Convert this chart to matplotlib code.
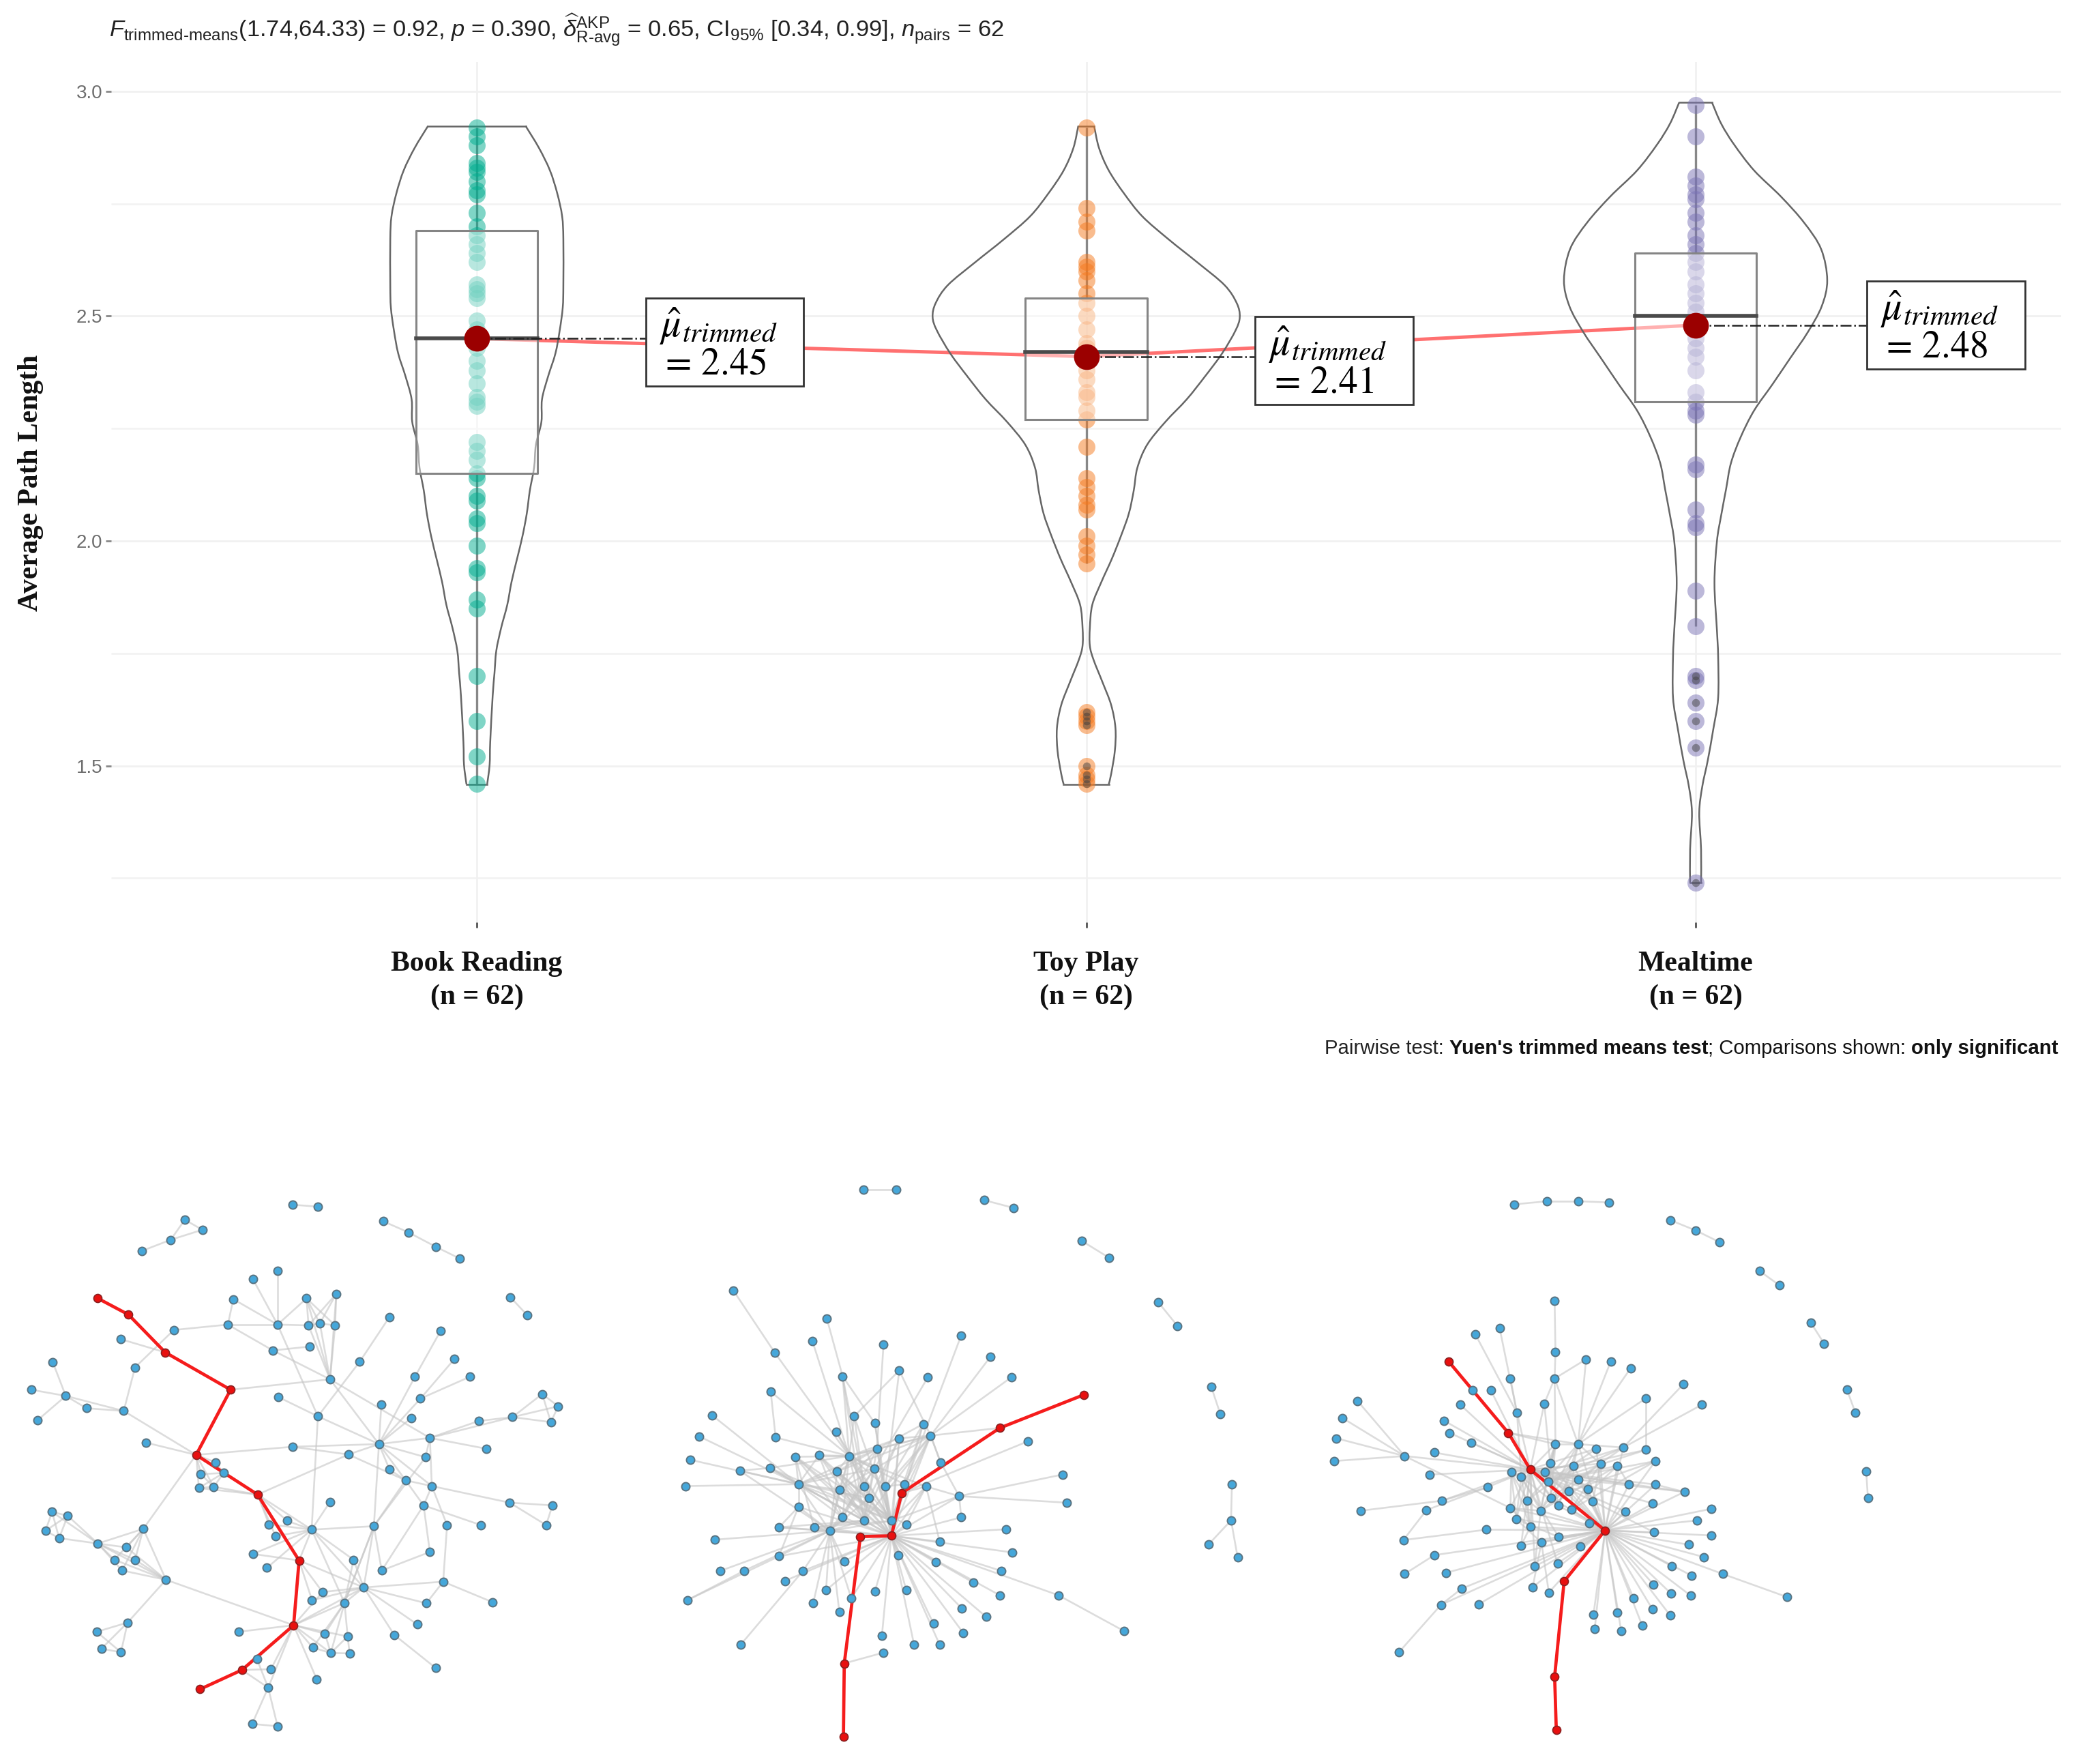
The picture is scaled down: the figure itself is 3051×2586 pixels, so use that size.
# -*- coding: utf-8 -*-
import matplotlib
matplotlib.use("Agg")
import matplotlib.pyplot as plt
from matplotlib.path import Path
from matplotlib.patches import PathPatch, Rectangle

W, H = 3051, 2586

plt.rcParams['font.family'] = ['Liberation Sans', 'DejaVu Sans']
plt.rcParams['mathtext.fontset'] = 'custom'
plt.rcParams['mathtext.rm'] = 'Liberation Sans'
plt.rcParams['mathtext.it'] = 'Liberation Sans:italic'
plt.rcParams['mathtext.bf'] = 'Liberation Sans:bold'

# ---- violin panel data
conditions = ["Book Reading", "Toy Play", "Mealtime"]
sample_n = [62, 62, 62]
trimmed_means = [2.45, 2.41, 2.48]
medians = [2.45, 2.42, 2.50]
box_low = [2.15, 2.27, 2.31]
box_high = [2.69, 2.54, 2.64]
whisker_low = [1.46, 1.95, 1.81]
whisker_high = [2.92, 2.92, 2.97]
colors = ['#00AD8F', '#F57A1F', '#7A73B5']

book_points = [2.92, 2.90, 2.88, 2.84, 2.83, 2.82, 2.80, 2.78, 2.77, 2.73, 2.70, 2.68, 2.66, 2.64, 2.62,
               2.57, 2.56, 2.55, 2.54, 2.49, 2.47, 2.45, 2.43, 2.40, 2.38, 2.35, 2.32, 2.31, 2.30,
               2.22, 2.20, 2.18, 2.15, 2.14, 2.10, 2.09, 2.05, 2.04, 1.99, 1.94, 1.93, 1.87, 1.85,
               1.70, 1.60, 1.52, 1.46]
toy_points = [2.92, 2.74, 2.71, 2.69, 2.62, 2.61, 2.60, 2.58, 2.55, 2.53, 2.50, 2.47, 2.44, 2.43, 2.41,
              2.38, 2.36, 2.33, 2.32, 2.29, 2.27, 2.21, 2.14, 2.12, 2.10, 2.08, 2.07, 2.01, 1.99, 1.97,
              1.95, 1.62, 1.61, 1.60, 1.59, 1.50, 1.48, 1.47, 1.46]
meal_points = [2.97, 2.90, 2.81, 2.79, 2.77, 2.76, 2.73, 2.71, 2.68, 2.66, 2.64, 2.62, 2.60, 2.57, 2.55,
               2.53, 2.51, 2.49, 2.47, 2.45, 2.43, 2.41, 2.38, 2.33, 2.31, 2.29, 2.28, 2.17, 2.16,
               2.07, 2.04, 2.03, 1.89, 1.81, 1.70, 1.69, 1.64, 1.60, 1.54, 1.24]
outliers = [[], [1.62, 1.61, 1.60, 1.59, 1.50, 1.48, 1.47, 1.46], [1.70, 1.69, 1.64, 1.60, 1.54, 1.24]]

# violin outlines: value and half width in x units
book_vy = [2.923, 2.874, 2.824, 2.773, 2.722, 2.671, 2.569, 2.519, 2.468, 2.417, 2.366, 2.315, 2.265, 2.214,
           2.163, 2.112, 2.061, 2.011, 1.960, 1.909, 1.858, 1.807, 1.756, 1.706, 1.655, 1.553, 1.502, 1.459]
book_vw = [.080, .102, .120, .132, .140, .142, .142, .141, .136, .129, .117, .107, .106, .097,
           .094, .087, .082, .075, .066, .057, .050, .040, .032, .029, .026, .022, .021, .017]
toy_vy = [2.923, 2.874, 2.824, 2.773, 2.722, 2.671, 2.620, 2.569, 2.529, 2.498, 2.468, 2.417, 2.366, 2.315, 2.265,
          2.214, 2.163, 2.112, 2.061, 2.011, 1.960, 1.909, 1.858, 1.807, 1.767, 1.736, 1.685, 1.635, 1.584, 1.533,
          1.482, 1.459]
toy_vw = [.013, .021, .037, .062, .092, .135, .182, .227, .247, .252, .245, .223, .195, .165, .130,
          .100, .084, .078, .070, .057, .042, .025, .010, .006, .006, .012, .027, .041, .048, .047,
          .041, .037]
meal_vy = [2.975, 2.928, 2.882, 2.824, 2.766, 2.708, 2.649, 2.580, 2.522, 2.464, 2.406, 2.348, 2.290, 2.231, 2.173,
           2.115, 2.057, 1.999, 1.906, 1.802, 1.744, 1.651, 1.581, 1.512, 1.454, 1.396, 1.314, 1.240]
meal_vw = [.027, .042, .063, .096, .140, .178, .206, .216, .207, .184, .155, .126, .096, .074, .058,
           .050, .042, .035, .031, .035, .037, .037, .029, .020, .011, .006, .009, .009]

label_x = [1.407, 2.407, 3.411]
label_y = [2.442, 2.401, 2.480]
label_w = 0.259
label_h = 0.195
minor_grid = [1.25, 1.75, 2.25, 2.75]
y_ticks = [1.5, 2.0, 2.5, 3.0]

# ---- network data, node positions
net1_x = [747, 812, 472, 517, 436, 362, 979, 1044, 1113, 1175, 709, 646, 596, 783, 859, 1304, 1347, 995, 1125, 1161,
          1201, 444, 582, 709, 788, 817, 856, 309, 697, 791, 345, 919, 135, 1060, 843, 80, 168, 711, 1074, 1385,
          1426, 221, 316, 96, 812, 974, 1050, 1309, 1223, 1407, 372, 747, 968, 1098, 1242, 890, 1087, 550, 571, 513,
          508, 546, 995, 1036, 1103, 843, 1082, 1302, 1411, 1395, 1228, 1142, 133, 173, 116, 151, 366, 250, 323, 292,
          345, 312, 424, 733, 687, 704, 796, 955, 646, 682, 903, 975, 1098, 824, 797, 929, 880, 1132, 1089, 1258,
          326, 247, 259, 309, 609, 830, 888, 799, 845, 893, 1066, 1007, 1113, 656, 692, 685, 809, 644, 709,
          250, 328, 422, 589, 501, 658, 764, 750, 618, 511]
net1_y = [117, 122, 156, 182, 208, 237, 160, 189, 226, 257, 289, 310, 362, 360, 348, 357, 404, 408, 445, 517,
          563, 442, 428, 428, 430, 425, 430, 466, 495, 485, 539, 524, 526, 563, 570, 597, 613, 616, 620, 608,
          640, 645, 652, 676, 666, 635, 671, 668, 678, 681, 734, 745, 738, 722, 750, 765, 772, 785, 813, 816,
          852, 849, 804, 832, 847, 888, 897, 890, 897, 948, 948, 948, 914, 924, 963, 982, 958, 996, 1006, 1038,
          1038, 1066, 1090, 937, 946, 977, 960, 951, 1023, 1059, 1038, 1066, 1018, 1122, 1143, 1110, 1150, 1095, 1151, 1148,
          1201, 1225, 1269, 1278, 1225, 1230, 1237, 1266, 1280, 1281, 1206, 1233, 1319, 1295, 1322, 1370, 1348, 1464, 1470,
          360, 402, 500, 597, 766, 869, 1040, 1208, 1324, 1374]
net1_links = [(0, [1]), (2, [3, 4]), (3, [4]), (4, [5]), (6, [7]), (7, [8]), (8, [9]), (15, [16]),
              (23, [10, 11, 12, 13, 22, 24, 44]), (22, [12, 21, 28]), (21, [30]),
              (13, [24, 25, 26, 34]), (14, [24, 25, 26, 34]), (24, [25, 34]), (25, [26, 34]), (26, [34]),
              (28, [29, 34]), (34, [122, 52, 53]), (30, [42]), (27, [121]), (44, [31, 37, 52, 86]), (31, [17]),
              (33, [18, 52]), (38, [19, 20, 52]), (45, [52]), (46, [52]),
              (53, [47, 48, 52, 54, 56, 64]), (47, [39, 40, 49, 48]), (39, [40, 49]), (40, [49]),
              (52, [51, 55, 62, 63, 56, 64, 87]), (51, [55]), (55, [63, 124]), (63, [64, 66, 87, 62]),
              (64, [67, 71, 66]), (67, [68, 69]), (68, [69]), (66, [70, 92, 91]), (71, [97]), (56, [87]),
              (87, [95, 96, 91]), (97, [95, 98, 99]), (95, [98]),
              (36, [32, 35, 43, 41, 42]), (41, [42]), (42, [123]), (50, [123]),
              (123, [51, 57, 58, 59, 60, 61, 76]), (58, [57, 59, 60, 61, 124]), (59, [61]), (60, [61, 124]), (61, [124]),
              (76, [77, 78, 79, 80, 81, 82]), (72, [73, 74, 75, 77]), (73, [74, 75, 77]), (74, [75]), (75, [77]),
              (77, [78, 79, 80, 81, 82]), (82, [78, 79, 80, 81, 100, 126]),
              (100, [101, 102, 103]), (101, [103]), (102, [103]),
              (124, [83, 84, 85, 86]), (86, [83, 84, 85, 65, 87, 125, 88, 89, 90, 95, 96]),
              (125, [88, 93, 94, 95]), (95, [90, 96, 110, 111, 126, 93, 94]), (96, [87, 90, 105, 106, 108, 107, 126]),
              (111, [112]), (91, [92]),
              (126, [93, 104, 105, 106, 107, 108, 116, 113, 114, 115]), (105, [108]), (106, [108, 109]),
              (107, [108]), (108, [109]), (127, [113, 114, 115]), (113, [115]), (115, [117, 118]), (117, [118])]
net1_path = [119, 120, 121, 122, 123, 124, 125, 126, 127, 128]

net2_x = [521, 601, 813, 884, 1050, 1115, 1235, 1281, 1363, 1385, 1413, 1411, 1356, 1427, 207, 433, 398, 570, 758, 829,
          307, 471, 608, 677, 879, 297, 155, 124, 103, 91, 499, 549, 456, 666, 684, 309, 608, 919, 554, 414,
          487, 357, 708, 295, 222, 458, 548, 1003, 364, 620, 523, 575, 673, 463, 535, 753, 1013, 364, 471, 523,
          589, 625, 758, 317, 402, 440, 867, 162, 706, 881, 606, 317, 475, 696, 855, 175, 232, 375, 331, 787,
          851, 993, 431, 549, 625, 95, 400, 492, 463, 760, 818, 691, 763, 566, 1152, 224, 644, 706, 570,
          1055, 852, 614, 589, 514, 475, 473]
net2_y = [77, 77, 105, 125, 211, 254, 370, 431, 589, 660, 842, 936, 999, 1032, 340, 413, 471, 479, 456, 511,
          501, 562, 547, 565, 565, 602, 663, 718, 779, 847, 666, 684, 707, 686, 716, 721, 723, 731, 751, 767,
          769, 771, 785, 800, 807, 809, 802, 817, 842, 842, 848, 848, 848, 857, 878, 873, 890, 901, 928, 936,
          937, 946, 928, 954, 954, 963, 959, 986, 991, 1019, 1027, 1029, 1042, 1045, 1067, 1067, 1067, 1067, 1093, 1097,
          1130, 1130, 1117, 1120, 1117, 1143, 1150, 1138, 1173, 1165, 1186, 1204, 1228, 1236, 1223, 1259, 1259, 1259, 1279,
          610, 696, 865, 976, 978, 1307, 1497]
net2_links = [(0, [1]), (2, [3]), (4, [5]), (6, [7]), (8, [9]), (10, [11]), (11, [12, 13]),
              (14, [20]), (20, [40]), (15, [21]), (21, [31, 40, 59, 50]), (16, [40]), (17, [38]),
              (22, [30, 34, 51]), (23, [46]), (18, [101]), (19, [34]), (24, [34]), (100, [34]), (37, [101]),
              (47, [55]), (55, [56, 52, 62, 60, 42]), (42, [34]),
              (25, [35, 40]), (26, [48]), (27, [48]), (28, [48]), (29, [48]), (35, [40]),
              (44, [43, 48, 65]), (43, [48, 40, 59, 60]),
              (40, [30, 32, 34, 36, 38, 39, 41, 45, 46, 50, 53, 58, 59, 60, 54, 51, 52, 49, 65]),
              (48, [41, 39, 45, 57, 53, 58, 59, 60, 54, 102, 65, 46, 38]), (57, [71, 63, 65, 102]), (64, [41, 102, 59, 60]),
              (65, [45, 53, 46, 58, 59, 71, 75, 76, 77, 82, 86, 88, 63, 67, 60, 54, 64, 72, 87, 102]),
              (71, [85]), (76, [85]), (77, [95, 102]),
              (102, [49, 52, 55, 61, 60, 62, 66, 68, 69, 70, 73, 74, 79, 80, 81, 84, 83, 89, 90, 91, 92, 93, 96, 97,
                     72, 87, 82, 59, 54, 51, 50, 53, 58, 45, 46, 36, 34, 71, 78, 38]),
              (81, [94]), (98, [104]), (34, [36, 49, 38, 42, 51, 60, 59, 53, 45]), (49, [60, 51]), (52, [68, 101, 60, 61]),
              (38, [60, 59, 45, 53, 58]), (36, [60, 59, 54]), (33, [60, 51, 38, 102]), (45, [59, 60, 54]),
              (41, [58, 59, 60, 102]), (39, [59, 60, 102, 58]), (53, [60, 61]), (50, [59, 60]), (63, [59, 102]),
              (31, [60, 102]), (30, [60, 50]), (32, [60]), (46, [60, 59, 58])]
net2_path = [99, 100, 101, 102, 103, 104, 105]

net3_x = [528, 608, 684, 757, 906, 968, 1025, 1122, 1170, 1246, 1278, 1333, 1354, 1380, 1384, 626, 493, 434, 628, 702,
          762, 810, 519, 626, 938, 427, 472, 847, 149, 397, 601, 982, 535, 112, 358, 372, 98, 424, 628, 683,
          727, 792, 847, 335, 263, 92, 870, 615, 672, 737, 778, 521, 603, 323, 545, 683, 610, 806, 870, 463,
          706, 660, 940, 353, 560, 617, 718, 864, 635, 519, 592, 666, 798, 1005, 156, 316, 971, 533, 709, 567,
          461, 867, 1005, 636, 260, 594, 545, 688, 950, 987, 335, 633, 578, 910, 263, 363, 957, 1033, 401, 573,
          612, 865, 908, 955, 817, 443, 351, 863, 906, 1189, 720, 778, 838, 723, 787, 250,
          369, 514, 567, 748, 649, 626, 630]
net3_y = [116, 108, 108, 111, 157, 184, 214, 289, 326, 423, 477, 596, 657, 808, 877, 367, 438, 453, 499, 518,
          523, 541, 568, 568, 582, 599, 599, 619, 626, 635, 633, 636, 657, 670, 677, 709, 723, 734, 738, 738,
          750, 747, 753, 760, 769, 782, 782, 787, 794, 789, 794, 811, 811, 817, 823, 830, 835, 843, 843, 850,
          855, 860, 862, 885, 884, 877, 887, 892, 898, 904, 911, 908, 913, 906, 911, 909, 936, 933, 943, 953,
          960, 967, 975, 979, 987, 993, 1001, 1004, 999, 1031, 1026, 1048, 1055, 1055, 1075, 1072, 1079, 1075, 1113, 1109,
          1123, 1102, 1126, 1131, 1138, 1153, 1155, 1167, 1183, 1135, 1180, 1175, 1209, 1218, 1223, 1277,
          523, 709, 804, 962, 1094, 1341, 1479]
net3_links = [(0, [1]), (1, [2]), (2, [3]), (4, [5]), (5, [6]), (7, [8]), (9, [10]), (11, [12]), (13, [14]),
              (15, [18]), (18, [23]), (23, [19, 38, 39, 30]), (16, [32]), (17, [32]), (22, [32]), (32, [118, 54]),
              (26, [118]), (25, [117]), (29, [118]), (34, [118]), (35, [118]), (37, [118]), (43, [118]),
              (28, [44]), (33, [44]), (36, [44]), (45, [44]), (44, [118, 69]), (53, [118]),
              (30, [47, 118]), (20, [39]), (21, [39]), (27, [39, 42]), (24, [41]), (31, [41]), (19, [39]),
              (117, [38, 39]),
              (118, [38, 47, 48, 49, 51, 52, 54, 55, 56, 59, 60, 61, 64, 65, 68, 69, 70, 77, 79, 63, 86, 92, 119,
                     58, 57, 62, 67, 72, 81, 91]),
              (119, [39, 40, 41, 46, 47, 48, 49, 50, 52, 55, 56, 57, 58, 60, 61, 62, 65, 66, 67, 68, 70, 71, 72, 73,
                     76, 78, 79, 80, 81, 82, 83, 85, 86, 87, 88, 89, 90, 91, 92, 93, 96, 97, 99, 100, 101, 102, 103,
                     104, 105, 106, 107, 108, 110, 111, 112, 113, 114, 98, 95, 77, 69]),
              (74, [63]), (63, [59]), (75, [84, 59]), (84, [80]), (90, [94]), (98, [106]), (106, [115]),
              (97, [109]), (99, [85]), (100, [85]), (57, [50]), (62, [58, 55]), (38, [39, 47, 52, 70, 65, 56]),
              (39, [41, 48, 49, 70, 68, 64]), (47, [70, 65, 68]), (48, [64, 70, 71, 68]), (49, [70, 71, 66]),
              (50, [70, 71, 56]), (41, [52, 56, 65]), (42, [48, 56]), (46, [56, 65, 71]), (40, [47, 56]),
              (54, [68, 70, 77, 79, 83]), (51, [64, 69, 77, 79]), (69, [79, 70]), (77, [83, 85]), (64, [70, 79]),
              (86, [79]), (92, [70])]
net3_path = [116, 117, 118, 119, 120, 121, 122]

# pixel box of each network crop, coordinates above are in a 1568 x 1568 frame
net_boxes = [(0, 900), (950, 1900), (1900, 2850)]
net_top, net_bottom = 1700, 2586


def px_axes(fig, left, right, top, bottom):
    return fig.add_axes([left / W, 1 - bottom / H, (right - left) / W, (bottom - top) / H])


def curve_through(xs, ys):
    """Smooth path through the read points, Catmull-Rom handles written as bezier."""
    verts = [(xs[0], ys[0])]
    codes = [Path.MOVETO]
    n = len(xs)
    for i in range(n - 1):
        a, d = max(i - 1, 0), min(i + 2, n - 1)
        verts.append((xs[i] + (xs[i + 1] - xs[a]) / 6, ys[i] + (ys[i + 1] - ys[a]) / 6))
        verts.append((xs[i + 1] - (xs[d] - xs[i]) / 6, ys[i + 1] - (ys[d] - ys[i]) / 6))
        verts.append((xs[i + 1], ys[i + 1]))
        codes += [Path.CURVE4] * 3
    return Path(verts, codes)


def draw_violins(fig):
    ax = px_axes(fig, 163, 3022, 91, 1352)
    ax.set_xlim(0.4, 3.6)
    ax.set_ylim(1.152, 3.065)
    for s in ax.spines.values():
        s.set_visible(False)

    ax.set_yticks(y_ticks)
    ax.set_yticklabels([f"{v:.1f}" for v in y_ticks], fontsize=20, color='#6e6e6e')
    ax.set_xticks([1, 2, 3])
    ax.set_xticklabels([f"{c}\n(n = {n})" for c, n in zip(conditions, sample_n)],
                       fontsize=30, fontweight='bold', family=['Liberation Serif'], color='#111111',
                       linespacing=1.36)
    ax.tick_params(axis='y', length=6, width=2, color='#888888', pad=3)
    ax.tick_params(axis='x', length=6, width=2, color='#555555', pad=24)
    ax.set_axisbelow(True)
    ax.grid(True, color='#f1f1f1', linewidth=2)
    ax.hlines(minor_grid, 0.4, 3.6, color='#f3f3f3', linewidth=2, zorder=0)

    points = [book_points, toy_points, meal_points]
    outlines = [(book_vy, book_vw), (toy_vy, toy_vw), (meal_vy, meal_vw)]

    ax.plot([1, 2, 3], trimmed_means, color='#ff7070', lw=3.6, zorder=2)

    for i in range(3):
        xc = i + 1
        vy, vw = outlines[i]
        for side in (-1, 1):
            ax.add_patch(PathPatch(curve_through([xc + side * w for w in vw], vy), fill=False,
                                   edgecolor='#666666', lw=1.8, zorder=3))
        ax.plot([xc - vw[0], xc + vw[0]], [vy[0], vy[0]], color='#666666', lw=1.8, zorder=3)
        ax.plot([xc - vw[-1], xc + vw[-1]], [vy[-1], vy[-1]], color='#666666', lw=1.8, zorder=3)
        ax.vlines(xc, box_high[i], whisker_high[i], color='#888888', lw=2.4, zorder=3)
        ax.vlines(xc, whisker_low[i], box_low[i], color='#888888', lw=2.4, zorder=3)
        ax.scatter([xc] * len(points[i]), points[i], s=324, color=colors[i], alpha=0.5,
                   linewidths=0, zorder=4)
        if outliers[i]:
            ax.scatter([xc] * len(outliers[i]), outliers[i], s=70, color='#444444', alpha=0.5,
                       linewidths=0, zorder=4)
        ax.fill_between([xc - 0.1, xc + 0.1], box_low[i], box_high[i], color='white', alpha=0.45,
                        linewidth=0, zorder=5)
        ax.plot([xc - 0.1, xc + 0.1, xc + 0.1, xc - 0.1, xc - 0.1],
                [box_low[i], box_low[i], box_high[i], box_high[i], box_low[i]],
                color='#858585', lw=2.2, zorder=6)
        ax.plot([xc - 0.1, xc + 0.1], [medians[i]] * 2, color='#4a4a4a', lw=4, zorder=6)
        ax.plot([xc, label_x[i]], [trimmed_means[i]] * 2, color='#222222', lw=1.8, ls='-.', zorder=6)
        ax.scatter([xc], [trimmed_means[i]], s=740, color='#9b0000', linewidths=0, zorder=7)
        ax.add_patch(Rectangle((label_x[i] - label_w / 2, label_y[i] - label_h / 2), label_w, label_h,
                               facecolor='white', edgecolor='#333333', lw=2, zorder=8))
        left = label_x[i] - label_w / 2 + 0.022
        ax.text(left, label_y[i] + 0.036, "$\\hat{\\mu}_{trimmed}$", ha='left', va='center', fontsize=42,
                math_fontfamily='stix', zorder=9)
        ax.text(left, label_y[i] - 0.05, "$=\\,%.2f$" % trimmed_means[i], ha='left', va='center', fontsize=40,
                math_fontfamily='stix', zorder=9)

    fig.text(45 / W, 1 - 708 / H, "Average Path Length", rotation=90, ha='center', va='center',
             fontsize=30, fontweight='bold', family=['Liberation Serif'], color='#111111')
    return ax


def draw_caption(ax):
    # only parts of the caption are bold, so it is chained piece by piece
    pieces = [("Pairwise test: ", 'normal'), ("Yuen's trimmed means test", 'bold'),
              ("; Comparisons shown: ", 'normal'), ("only significant", 'bold')]
    anchor = ax.text(1942 / W, 1 - 1537 / H, pieces[0][0], transform=ax.figure.transFigure, ha='left', va='center',
                     fontsize=21.2, color='#222222')
    for txt, weight in pieces[1:]:
        anchor = ax.annotate(txt, xy=(1, 0), xycoords=anchor, va='bottom', ha='left', fontsize=21.2,
                             fontweight=weight, color='#111111', annotation_clip=False)


def draw_network(fig, box, xs, ys, links, path):
    ax = px_axes(fig, box[0], box[1], net_top, net_bottom)
    ax.set_xlim(0, 1568)
    ax.set_ylim(1568, 0)
    ax.axis('off')
    for hub, others in links:
        for n in others:
            ax.plot([xs[hub], xs[n]], [ys[hub], ys[n]], color='#c6c6c6', lw=1.9, alpha=0.6, zorder=1)
    ax.plot([xs[n] for n in path], [ys[n] for n in path], color='#f51c1c', lw=3.4, zorder=2)
    blue = [n for n in range(len(xs)) if n not in path]
    ax.scatter([xs[n] for n in blue], [ys[n] for n in blue], s=75, color='#45a7da',
               edgecolors='#5a7482', linewidths=1.4, zorder=3)
    ax.scatter([xs[n] for n in path], [ys[n] for n in path], s=75, color='#e8100f',
               edgecolors='#8a2020', linewidths=1.2, zorder=4)


def main():
    fig = plt.figure(figsize=(W / 100, H / 100), dpi=100, facecolor='white')
    ax = draw_violins(fig)

    subtitle = ("$F_{\\text{trimmed-means}}$(1.74,64.33) = 0.92, $p$ = 0.390, "
                "$\\widehat{\\delta}_{\\text{R-avg}}^{\\text{AKP}}$ = 0.65, "
                "CI$_{95\\%}$ [0.34, 0.99], $n_{\\text{pairs}}$ = 62")
    fig.text(160 / W, 1 - 44 / H, subtitle, ha='left', va='center', fontsize=24.8, color='#222222')
    draw_caption(ax)

    draw_network(fig, net_boxes[0], net1_x, net1_y, net1_links, net1_path)
    draw_network(fig, net_boxes[1], net2_x, net2_y, net2_links, net2_path)
    draw_network(fig, net_boxes[2], net3_x, net3_y, net3_links, net3_path)

    fig.savefig("out.png", dpi=100)


if __name__ == "__main__":
    main()
